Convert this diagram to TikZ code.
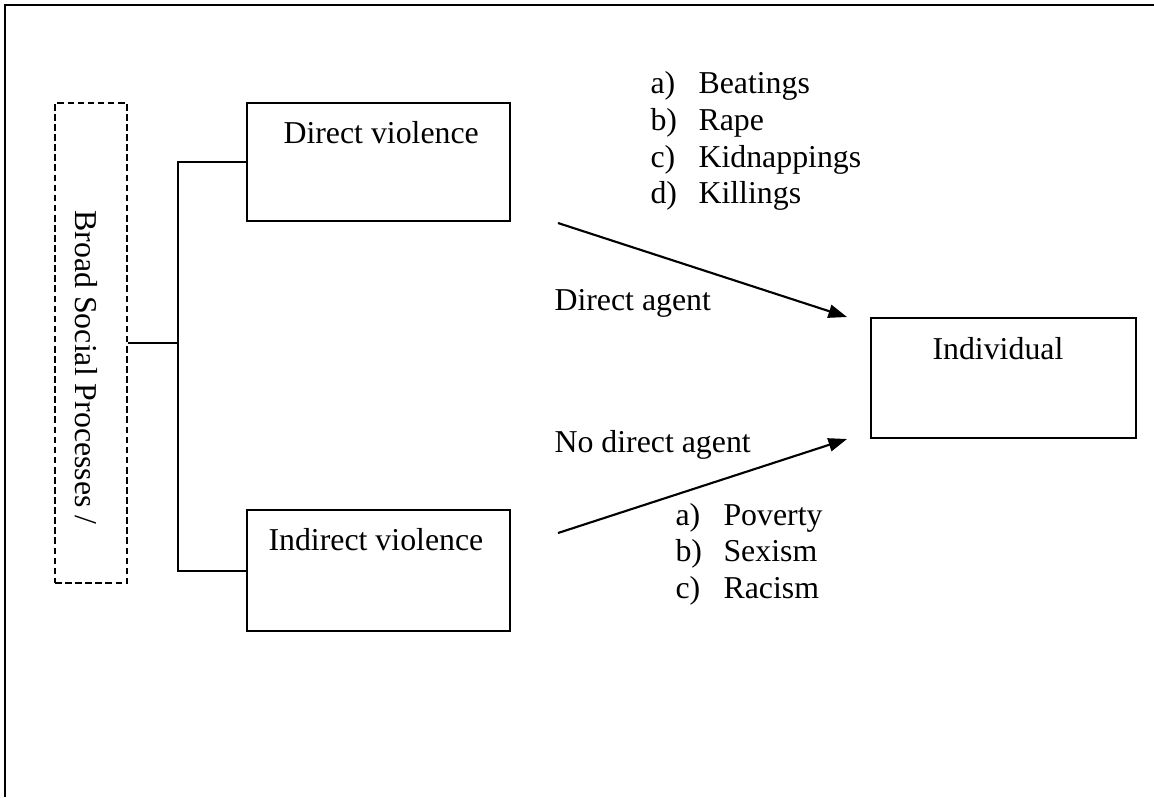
\documentclass[tikz,border=0pt]{standalone}
\usepackage{fontspec}
\setmainfont{Liberation Serif}
\usepackage{tikz}
\usetikzlibrary{arrows.meta, positioning}

\begin{document}
\begin{tikzpicture}[
    x=0.377pt, y=-0.377pt,
    every node/.style={font=\fontsize{12}{13.8}\selectfont},
    frame/.style={line width=1pt},
    box/.style={draw, line width=0.75pt, inner sep=0pt},
    dashbox/.style={draw, line width=0.75pt, dash pattern=on 2.5pt off 1.3pt, inner sep=0pt},
    txt/.style={anchor=base west, inner sep=0pt},
    link/.style={line width=0.75pt},
    flow/.style={-{Triangle[length=7pt, width=5pt]}, line width=0.8pt}
]
\useasboundingbox (0,0) rectangle (1154,797);

% page frame (cut at right and bottom)
\draw[frame] (1154,5) -- (5,5) -- (5,797);

% boxes
\node[dashbox, minimum width=27.1pt, minimum height=181pt] (social) at (91,343) {};
\node[txt, rotate=-90] (socialtext) at (75,210) {Broad Social Processes /};

\node[box, minimum width=99.2pt, minimum height=44.5pt] (direct) at (378.5,162) {};
\node[txt] (directtext) at (283,143) {Direct violence};

\node[box, minimum width=99.2pt, minimum height=45.6pt] (indirect) at (378.5,570.5) {};
\node[txt] (indirecttext) at (268,550) {Indirect violence};

\node[box, minimum width=99.9pt, minimum height=45.2pt] (individual) at (1003.5,378) {};
\node[txt] (individualtext) at (932,359) {Individual};

% bracket
\coordinate (fork) at (178,343);
\draw[link] (social.east) -- (fork);
\draw[link] (direct.west) -- (direct.west -| fork) -- (indirect.west -| fork) -- (indirect.west);

% arrows
\coordinate (agentstart) at (558,223);
\coordinate (agentend) at (847,317);
\coordinate (noagentstart) at (558,533);
\coordinate (noagentend) at (847,439);
\draw[flow] (agentstart) -- (agentend);
\draw[flow] (noagentstart) -- (noagentend);

\node[txt] (agent) at (554,310) {Direct agent};
\node[txt] (noagent) at (554,452) {No direct agent};

% direct forms
\node[txt] (da) at (650,93) {a)};
\node[txt] (beatings) at (698,93) {Beatings};
\node[txt] (db) at (650,130) {b)};
\node[txt] (rape) at (698,130) {Rape};
\node[txt] (dc) at (650,167) {c)};
\node[txt] (kidnappings) at (698,167) {Kidnappings};
\node[txt] (dd) at (650,203) {d)};
\node[txt] (killings) at (698,203) {Killings};

% indirect forms
\node[txt] (ia) at (675,525) {a)};
\node[txt] (poverty) at (723,525) {Poverty};
\node[txt] (ib) at (675,561) {b)};
\node[txt] (sexism) at (723,561) {Sexism};
\node[txt] (ic) at (675,598) {c)};
\node[txt] (racism) at (723,598) {Racism};

\end{tikzpicture}
\end{document}
